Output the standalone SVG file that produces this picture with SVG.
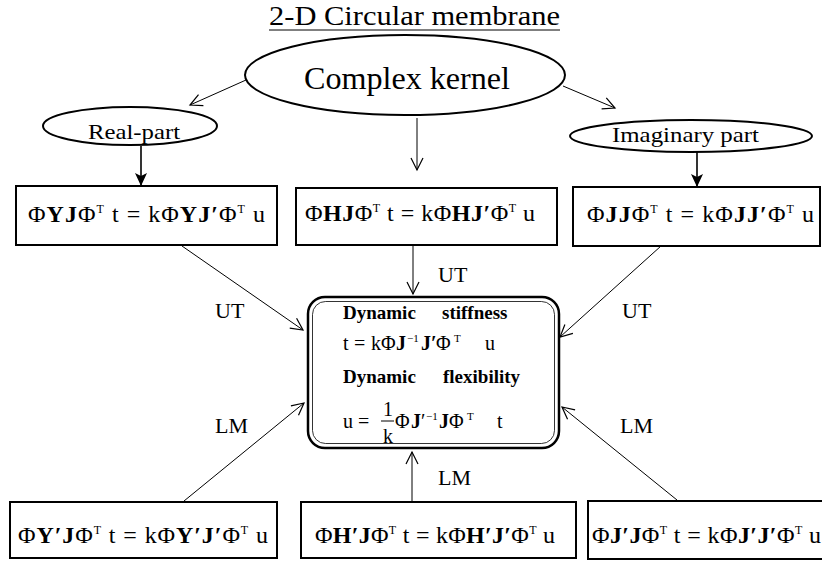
<svg xmlns="http://www.w3.org/2000/svg" width="822" height="562" viewBox="0 0 822 562">
<style>
text { font-family: "Liberation Serif", "Times New Roman", serif; fill: #000; }
.title { font-size: 27px; }
.eq { font-size: 24px; }
.ce { font-size: 20px; }
.hd { font-size: 19px; font-weight: bold; }
.b { font-weight: bold; }
.sup { font-size: 12px; }
.csup { font-size: 11px; }
.lbl { font-size: 22px; }
.box { fill: #fff; stroke: #000; stroke-width: 2; }
.ell { fill: #fff; stroke: #000; stroke-width: 2; }
.conn line { stroke: #000; stroke-width: 1; fill: none; }
.conn line.thick { stroke-width: 1.6; }
</style>
<defs>
<marker id="open" markerUnits="userSpaceOnUse" markerWidth="16" markerHeight="16" refX="13" refY="8" orient="auto">
<path d="M1,2 L13,8 L1,14" fill="none" stroke="#000" stroke-width="1.2"/>
</marker>
<marker id="solid" markerUnits="userSpaceOnUse" markerWidth="16" markerHeight="16" refX="13" refY="8" orient="auto">
<path d="M0,2 L13,8 L0,14 L3,8 Z" fill="#000"/>
</marker>
</defs>
<rect width="822" height="562" fill="#fff"/>

<g id="title">
<text class="title" x="269" y="25" textLength="291" lengthAdjust="spacingAndGlyphs">2-D Circular membrane</text>
<line x1="269" y1="30" x2="560" y2="30" stroke="#000" stroke-width="1"/>
</g>

<g class="conn" id="connectors">
<line x1="246" y1="80" x2="190" y2="105" marker-end="url(#open)"/>
<line x1="563" y1="86" x2="615" y2="108" marker-end="url(#open)"/>
<line x1="417" y1="118" x2="417" y2="170" marker-end="url(#open)"/>
<line class="thick" x1="141" y1="146" x2="141" y2="186" marker-end="url(#solid)"/>
<line class="thick" x1="697" y1="152" x2="697" y2="187" marker-end="url(#solid)"/>
<line x1="182" y1="246" x2="303" y2="330" marker-end="url(#open)"/>
<line x1="413" y1="246" x2="413" y2="294" marker-end="url(#open)"/>
<line x1="661" y1="246" x2="560" y2="337" marker-end="url(#open)"/>
<line x1="184" y1="501" x2="304" y2="403" marker-end="url(#open)"/>
<line x1="412" y1="501" x2="412" y2="452" marker-end="url(#open)"/>
<line x1="677" y1="500" x2="562" y2="407" marker-end="url(#open)"/>
<text class="lbl" x="438" y="282">UT</text>
<text class="lbl" x="215" y="318">UT</text>
<text class="lbl" x="622" y="318">UT</text>
<text class="lbl" x="215" y="433">LM</text>
<text class="lbl" x="620" y="433">LM</text>
<text class="lbl" x="438" y="485">LM</text>
</g>

<g id="complex">
<ellipse class="ell" cx="405" cy="75" rx="160" ry="40"/>
<text x="304" y="89" font-size="32" textLength="206" lengthAdjust="spacingAndGlyphs">Complex kernel</text>
</g>

<g id="real">
<ellipse class="ell" cx="130" cy="126" rx="87" ry="19"/>
<text x="88" y="139" font-size="21" textLength="92" lengthAdjust="spacingAndGlyphs">Real-part</text>
</g>

<g id="imag">
<ellipse class="ell" cx="691" cy="136" rx="121" ry="16"/>
<text x="612" y="142" font-size="21" textLength="147" lengthAdjust="spacingAndGlyphs">Imaginary part</text>
</g>

<g id="box-YJ">
<rect class="box" x="16" y="186" width="261" height="59"/>
<text class="eq" x="28" y="222" textLength="237">Φ<tspan class="b">YJ</tspan>Φ<tspan class="sup" dy="-9">T</tspan><tspan dy="9"> t = kΦ</tspan><tspan class="b">YJ′</tspan>Φ<tspan class="sup" dy="-9">T</tspan><tspan dy="9"> u</tspan></text>
</g>

<g id="box-HJ">
<rect class="box" x="296" y="188" width="261" height="57"/>
<text class="eq" x="305" y="221" textLength="230">Φ<tspan class="b">HJ</tspan>Φ<tspan class="sup" dy="-9">T</tspan><tspan dy="9"> t = kΦ</tspan><tspan class="b">HJ′</tspan>Φ<tspan class="sup" dy="-9">T</tspan><tspan dy="9"> u</tspan></text>
</g>

<g id="box-JJ">
<rect class="box" x="573" y="187" width="247" height="59"/>
<text class="eq" x="587" y="222" textLength="227">Φ<tspan class="b">JJ</tspan>Φ<tspan class="sup" dy="-9">T</tspan><tspan dy="9"> t = kΦ</tspan><tspan class="b">JJ′</tspan>Φ<tspan class="sup" dy="-9">T</tspan><tspan dy="9"> u</tspan></text>
</g>

<g id="center">
<rect x="308" y="297" width="251" height="151" rx="17" fill="#fff" stroke="#000" stroke-width="2.5"/>
<rect x="312.5" y="301.5" width="242" height="142" rx="13" fill="none" stroke="#000" stroke-width="0.8"/>
<text class="hd" y="319"><tspan x="343">Dynamic</tspan><tspan x="442">stiffness</tspan></text>
<text class="ce" y="350"><tspan x="343">t</tspan><tspan x="354">=</tspan><tspan x="371">kΦ</tspan><tspan class="b" x="396">J</tspan><tspan class="csup" x="407" dy="-8">−1</tspan><tspan class="b" x="421" dy="8">J′</tspan><tspan x="436">Φ</tspan><tspan class="csup" x="454" dy="-8">T</tspan><tspan x="485" dy="8">u</tspan></text>
<text class="hd" y="383"><tspan x="343">Dynamic</tspan><tspan x="443">flexibility</tspan></text>
<text class="ce" y="428"><tspan x="343">u</tspan><tspan x="358">=</tspan><tspan x="395">Φ</tspan><tspan class="b" x="411">J</tspan><tspan x="421">′</tspan><tspan class="csup" x="426" dy="-8">−1</tspan><tspan class="b" x="439" dy="8">J</tspan><tspan x="449">Φ</tspan><tspan class="csup" x="467" dy="-8">T</tspan><tspan x="497" dy="8">t</tspan></text>
<text class="ce" x="383" y="416" font-size="18">1</text>
<line x1="381" y1="421" x2="394" y2="421" stroke="#000" stroke-width="1"/>
<text class="ce" x="383" y="443" font-size="18">k</text>
</g>

<g id="box-YpJ">
<rect class="box" x="10" y="502" width="267" height="56"/>
<text class="eq" x="18" y="543" textLength="250">Φ<tspan class="b">Y′J</tspan>Φ<tspan class="sup" dy="-9">T</tspan><tspan dy="9"> t = kΦ</tspan><tspan class="b">Y′J′</tspan>Φ<tspan class="sup" dy="-9">T</tspan><tspan dy="9"> u</tspan></text>
</g>

<g id="box-HpJ">
<rect class="box" x="301" y="502" width="275" height="56"/>
<text class="eq" x="315" y="543" textLength="240">Φ<tspan class="b">H′J</tspan>Φ<tspan class="sup" dy="-9">T</tspan><tspan dy="9"> t = kΦ</tspan><tspan class="b">H′J′</tspan>Φ<tspan class="sup" dy="-9">T</tspan><tspan dy="9"> u</tspan></text>
</g>

<g id="box-JpJ">
<rect class="box" x="588" y="501" width="240" height="58"/>
<text class="eq" x="592" y="543" textLength="229">Φ<tspan class="b">J′J</tspan>Φ<tspan class="sup" dy="-9">T</tspan><tspan dy="9"> t = kΦ</tspan><tspan class="b">J′J′</tspan>Φ<tspan class="sup" dy="-9">T</tspan><tspan dy="9"> u</tspan></text>
</g>
</svg>
